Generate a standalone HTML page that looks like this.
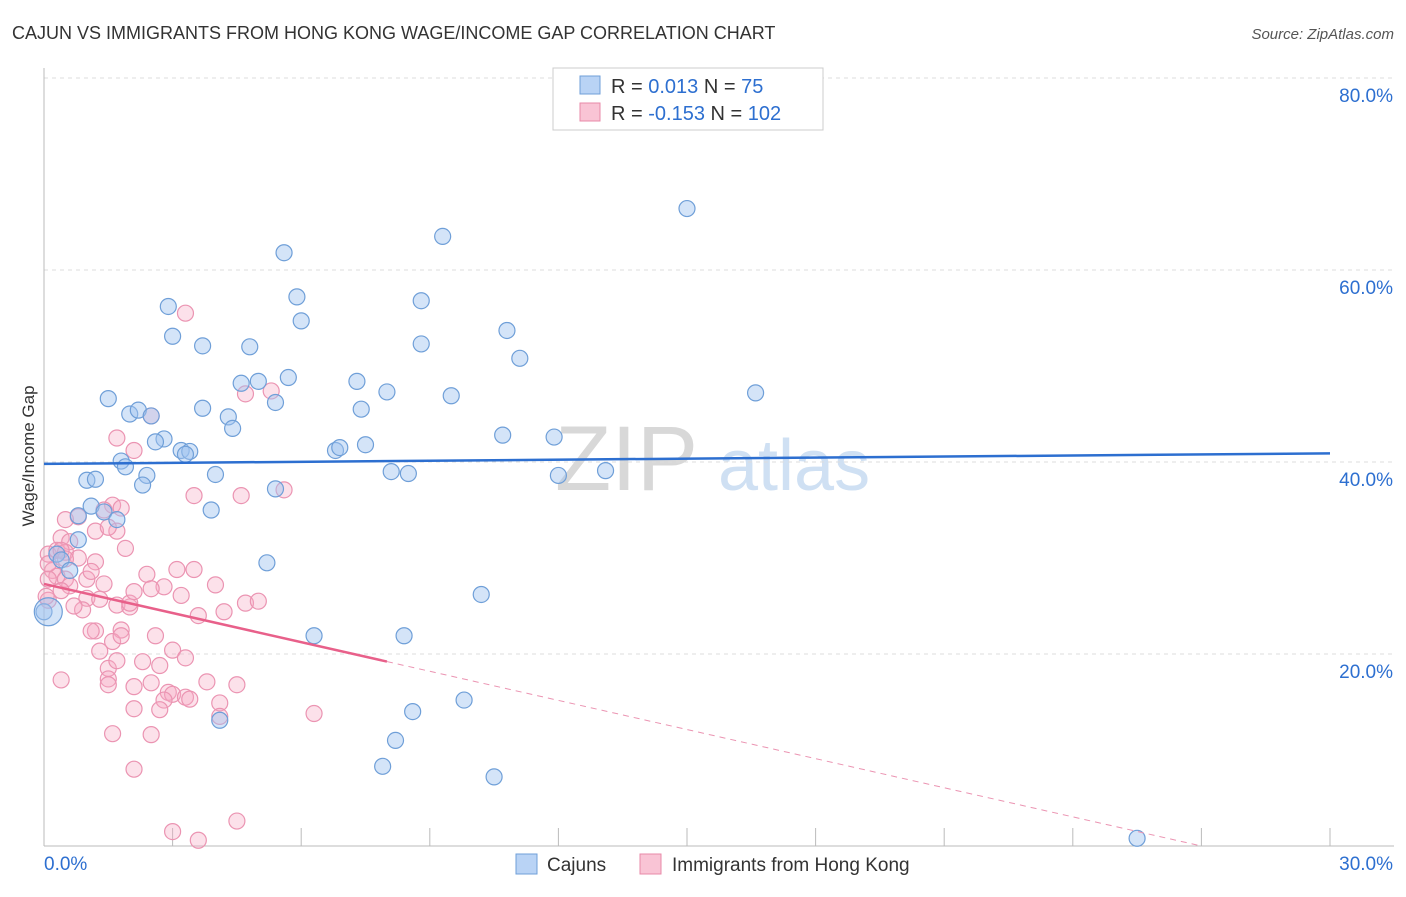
<!DOCTYPE html>
<html><head><meta charset="utf-8"><style>
body{margin:0;background:#fff;font-family:"Liberation Sans",sans-serif;}
svg text{font-family:"Liberation Sans",sans-serif;}
</style></head><body>
<svg id="chart" width="1406" height="892" viewBox="0 0 1406 892" xmlns="http://www.w3.org/2000/svg">
<text x="12" y="39" font-size="18" fill="#333">CAJUN VS IMMIGRANTS FROM HONG KONG WAGE/INCOME GAP CORRELATION CHART</text>
<text x="1394" y="39" font-size="15" fill="#555" text-anchor="end" font-style="italic">Source: ZipAtlas.com</text>
<g>
<text x="555" y="490" font-size="92" fill="#d8d8d8" font-family="Liberation Serif,serif">ZIP</text>
<text x="718" y="490" font-size="72" fill="#cfe0f3">atlas</text>
</g>
<g id="grid"></g>
<g id="axes"></g>
<g id="pts"></g>
<g id="trends"></g>
<text transform="translate(34,456) rotate(-90)" font-size="17" fill="#333" text-anchor="middle">Wage/Income Gap</text>
<g>
<rect x="553" y="68" width="270" height="62" fill="#fff" stroke="#ccc"/>
<rect x="580" y="76" width="20" height="18" fill="#b9d3f5" stroke="#6f9fd8"/>
<rect x="580" y="103" width="20" height="18" fill="#f9c4d5" stroke="#e88aa8"/>
<text x="611" y="93" font-size="20" fill="#333">R = <tspan fill="#2d6fd0"> 0.013</tspan>   N = <tspan fill="#2d6fd0">  75</tspan></text>
<text x="611" y="120" font-size="20" fill="#333">R = <tspan fill="#2d6fd0">-0.153</tspan>   N = <tspan fill="#2d6fd0">102</tspan></text>
</g>
<g>
<rect x="516" y="854" width="21" height="20" fill="#b9d3f5" stroke="#6f9fd8"/>
<text x="547" y="871" font-size="19" fill="#333">Cajuns</text>
<rect x="640" y="854" width="21" height="20" fill="#f9c4d5" stroke="#e88aa8"/>
<text x="672" y="871" font-size="19" fill="#333">Immigrants from Hong Kong</text>
</g>
</svg>
<script>
const yTicks=[20,40,60,80];
const yTickLabels=["20.0%","40.0%","60.0%","80.0%"];
const xTicks=[0,3,6,9,12,15,18,21,24,27,30];
const xTickLabels=["0.0%","30.0%"];
const cajunX=[17.8,15.0,9.3,5.6,5.9,2.9,8.8,6.0,3.0,10.8,3.7,4.8,8.8,11.1,5.7,4.6,5.0,7.3,8.0,9.5,16.6,1.5,5.4,7.4,3.7,2.0,2.2,2.5,4.3,4.4,2.8,2.6,10.7,11.9,6.8,6.9,7.5,3.2,3.4,3.3,1.8,1.9,2.4,4.0,8.1,8.5,12.0,13.1,1.0,1.2,2.3,5.4,1.1,3.9,1.4,0.8,1.7,0.8,0.3,0.4,5.2,0.6,10.2,0.0,6.3,8.4,9.8,8.6,4.1,8.2,7.9,10.5,25.5,0.1];
const cajunY=[80.0,66.4,63.5,61.8,57.2,56.2,56.8,54.7,53.1,53.7,52.1,52.0,52.3,50.8,48.8,48.2,48.4,48.4,47.3,46.9,47.2,46.6,46.2,45.5,45.6,45.0,45.4,44.8,44.7,43.5,42.4,42.1,42.8,42.6,41.2,41.5,41.8,41.2,41.1,40.8,40.1,39.5,38.6,38.7,39.0,38.8,38.6,39.1,38.1,38.2,37.6,37.2,35.4,35.0,34.8,34.4,34.0,31.9,30.4,29.8,29.5,28.7,26.2,24.4,21.9,21.9,15.2,14.0,13.1,11.0,8.3,7.2,0.8,24.4];
const cajunR=[8,8,8,8,8,8,8,8,8,8,8,8,8,8,8,8,8,8,8,8,8,8,8,8,8,8,8,8,8,8,8,8,8,8,8,8,8,8,8,8,8,8,8,8,8,8,8,8,8,8,8,8,8,8,8,8,8,8,8,8,8,8,8,8,8,8,8,8,8,8,8,8,8,14];
const hkX=[3.3,2.5,1.7,2.1,5.3,4.7,5.6,3.5,4.6,1.6,1.4,1.8,0.5,0.8,1.2,1.7,1.5,1.9,0.4,0.6,0.1,0.3,0.5,0.8,1.2,0.2,0.3,0.5,0.1,0.6,0.4,1.0,1.1,1.4,1.0,1.3,0.9,1.7,2.0,2.4,3.1,3.5,2.8,2.5,3.2,4.0,2.0,3.6,1.8,1.2,1.6,1.8,2.6,1.5,1.7,1.5,1.5,2.3,2.7,3.0,3.3,0.4,2.1,2.5,2.9,3.8,4.5,3.0,3.3,2.8,2.1,2.7,3.4,4.1,4.1,6.3,1.6,2.5,2.1,3.0,3.6,4.5,4.7,5.0,0.1,0.05,2.1,0.4,0.7,1.1,1.3,0.1,4.2,0.5];
const hkY=[55.5,44.8,42.5,41.2,47.4,47.1,37.1,36.5,36.5,35.5,35.0,35.2,34.0,34.3,32.8,32.8,33.2,31.0,32.1,31.7,30.4,30.8,30.6,30.0,29.6,28.7,28.1,27.8,27.8,27.1,26.6,27.8,28.6,27.3,25.8,25.7,24.6,25.1,24.9,28.3,28.8,28.8,27.0,26.8,26.1,27.2,25.3,24.0,22.5,22.4,21.3,21.9,21.9,18.5,19.3,17.4,16.8,19.2,18.8,20.4,19.6,17.3,16.6,17.0,16.0,17.1,16.8,15.8,15.5,15.2,14.3,14.2,15.3,14.9,13.5,13.8,11.7,11.6,8.0,1.5,0.6,2.6,25.3,25.5,25.6,26.0,26.5,30.8,25.0,22.4,20.3,29.4,24.4,29.9];
const cajunTrend=[39.8,40.9];
const hkTrend=[27.3,0.0];
const hkSolidEnd=8.0;
const X=v=>44+v/30*1286;
const Y=v=>846-v/20*192;
const NS="http://www.w3.org/2000/svg";
function mk(t,a,p){const e=document.createElementNS(NS,t);for(const k in a)e.setAttribute(k,a[k]);p.appendChild(e);return e;}
const grid=document.getElementById('grid'),axes=document.getElementById('axes'),pts=document.getElementById('pts'),tr=document.getElementById('trends');
yTicks.forEach((t,i)=>{
 const l=mk('line',{x1:44,x2:1394,y1:Y(t),y2:Y(t),stroke:'#ddd','stroke-dasharray':'4,4'},grid);
 
 
 const tx=mk('text',{x:1393,y:Y(t)+24,'font-size':19,fill:'#2d6fd0','text-anchor':'end'},axes);
 tx.textContent=yTickLabels[i];
 
 
});
const ax=mk('line',{x1:44,x2:44,y1:68,y2:846,stroke:'#bbb'},axes);


const bx=mk('line',{x1:44,x2:1394,y1:846,y2:846,stroke:'#bbb'},axes);


xTicks.forEach(t=>{
 const l=mk('line',{x1:X(t),x2:X(t),y1:828,y2:846,stroke:'#bbb'},axes);
 
 
});
const xl0=mk('text',{x:44,y:870,'font-size':19,fill:'#2d6fd0'},axes);
xl0.textContent=xTickLabels[0];


const xl1=mk('text',{x:1393,y:870,'font-size':19,fill:'#2d6fd0','text-anchor':'end'},axes);
xl1.textContent=xTickLabels[1];


hkX.forEach((x,i)=>{
 const c=mk('circle',{cx:X(x),cy:Y(hkY[i]),r:8,fill:'rgba(245,170,195,0.35)',stroke:'#eb94b2','stroke-width':1.2},pts);
 
 
});
cajunX.forEach((x,i)=>{
 const c=mk('circle',{cx:X(x),cy:Y(cajunY[i]),r:cajunR[i],fill:'rgba(160,195,240,0.45)',stroke:'#6f9fd8','stroke-width':1.2},pts);
 
 
});
const ct=mk('line',{x1:X(0),y1:Y(cajunTrend[0]),x2:X(30),y2:Y(cajunTrend[1]),stroke:'#2d6fd0','stroke-width':2.5},tr);


const hkEndX=27.0;
const hv=x=>hkTrend[0]+(hkTrend[1]-hkTrend[0])*x/hkEndX;
const ht=mk('line',{x1:X(0),y1:Y(hkTrend[0]),x2:X(hkSolidEnd),y2:Y(hv(hkSolidEnd)),stroke:'#e8608a','stroke-width':2.5},tr);


const hd=mk('line',{x1:X(hkSolidEnd),y1:Y(hv(hkSolidEnd)),x2:X(hkEndX),y2:Y(hkTrend[1]),stroke:'#eb94b2','stroke-width':1,'stroke-dasharray':'6,5'},tr);


</script>
</body></html>
